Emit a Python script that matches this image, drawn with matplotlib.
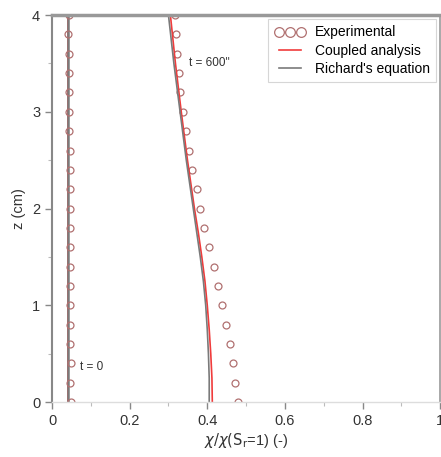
import numpy as np
import matplotlib.pyplot as plt
from matplotlib.ticker import MultipleLocator

plt.rcParams['font.family'] = ['Liberation Sans', 'DejaVu Sans']

# Experimental points (z in cm)
z_exp = [4.0, 3.8, 3.6, 3.4, 3.2, 3.0, 2.8, 2.6, 2.4, 2.2, 2.0,
         1.8, 1.6, 1.4, 1.2, 1.0, 0.8, 0.6, 0.4, 0.2, 0.0]
chi_t0_exp = [0.043, 0.042, 0.043, 0.044, 0.043, 0.044, 0.043, 0.045, 0.046, 0.045, 0.046,
              0.045, 0.046, 0.045, 0.046, 0.046, 0.047, 0.047, 0.048, 0.047, 0.048]
chi_t600_exp = [0.317, 0.320, 0.322, 0.327, 0.330, 0.338, 0.345, 0.353, 0.361, 0.373, 0.381,
                0.392, 0.405, 0.417, 0.428, 0.438, 0.448, 0.459, 0.466, 0.472, 0.479]

# Model curves at t = 600''
z_model = [4.0, 3.5, 3.0, 2.5, 2.25, 2.0, 1.75, 1.5, 1.25, 1.0, 0.75, 0.5, 0.25, 0.0]
chi_coupled = [0.305, 0.318, 0.333, 0.349, 0.358, 0.367, 0.377, 0.386, 0.394, 0.400,
               0.405, 0.409, 0.412, 0.413]
chi_richard = [0.300, 0.314, 0.330, 0.346, 0.355, 0.364, 0.373, 0.382, 0.390, 0.396,
               0.400, 0.403, 0.405, 0.405]

# Initial condition (t = 0)
z_init = [0.0, 4.0]
chi_init = [0.041, 0.041]

fig = plt.figure(figsize=(4.41, 4.57), dpi=100)
ax = fig.add_axes([0.118, 0.120, 0.880, 0.847])

red = '#f03c3c'
gray = '#7a7a7a'
marker_col = '#b07070'

ax.plot(chi_init, z_init, color=red, lw=1.2)
ax.plot(chi_init, z_init, color=gray, lw=1.8)
ax.plot(chi_t0_exp, z_exp, 'o', mfc='none', mec=marker_col, ms=5, mew=0.9)

ax.plot(chi_t600_exp, z_exp, 'o', mfc='none', mec=marker_col, ms=5, mew=0.9,
        label='Experimental')
ax.plot(chi_coupled, z_model, color=red, lw=1.2, label='Coupled analysis')
ax.plot(chi_richard, z_model, color=gray, lw=1.2, label="Richard's equation")

ax.text(0.352, 3.47, "t = 600''", fontsize=8.5, color='#333333')
ax.text(0.072, 0.33, 't = 0', fontsize=8.5, color='#333333')

ax.set_xlim(0, 1)
ax.set_ylim(0, 4)
ax.xaxis.set_major_locator(MultipleLocator(0.2))
ax.xaxis.set_minor_locator(MultipleLocator(0.1))
ax.yaxis.set_major_locator(MultipleLocator(1))
ax.yaxis.set_minor_locator(MultipleLocator(0.5))
ax.set_xticks([0, 0.2, 0.4, 0.6, 0.8, 1])
ax.set_xticklabels(['0', '0.2', '0.4', '0.6', '0.8', '1'])

ax.tick_params(which='major', direction='out', length=5, width=1, colors='#888888',
               labelcolor='#333333', labelsize=10.5)
ax.tick_params(which='minor', direction='out', length=3, width=0.8, colors='#bbbbbb')

ax.spines['top'].set_color('#999999')
ax.spines['top'].set_linewidth(2.5)
ax.spines['left'].set_color('#888888')
ax.spines['left'].set_linewidth(1.5)
ax.spines['right'].set_color('#999999')
ax.spines['right'].set_linewidth(1.2)
ax.spines['bottom'].set_color('#dddddd')
ax.spines['bottom'].set_linewidth(1.0)

ax.set_xlabel(r'$\chi/\chi(\mathrm{S_r}$=1) (-)', fontsize=10.5, color='#333333', labelpad=2)
ax.set_ylabel('z (cm)', fontsize=10.5, color='#333333', labelpad=4)

leg = ax.legend(loc='upper right', fontsize=10, frameon=True, fancybox=False,
                edgecolor='#cccccc', numpoints=3, handlelength=2.2, markerscale=1.4,
                borderaxespad=0.3, labelspacing=0.3, handletextpad=0.7,
                borderpad=0.45)
leg.get_frame().set_linewidth(0.8)

fig.savefig('out.png', dpi=100)
